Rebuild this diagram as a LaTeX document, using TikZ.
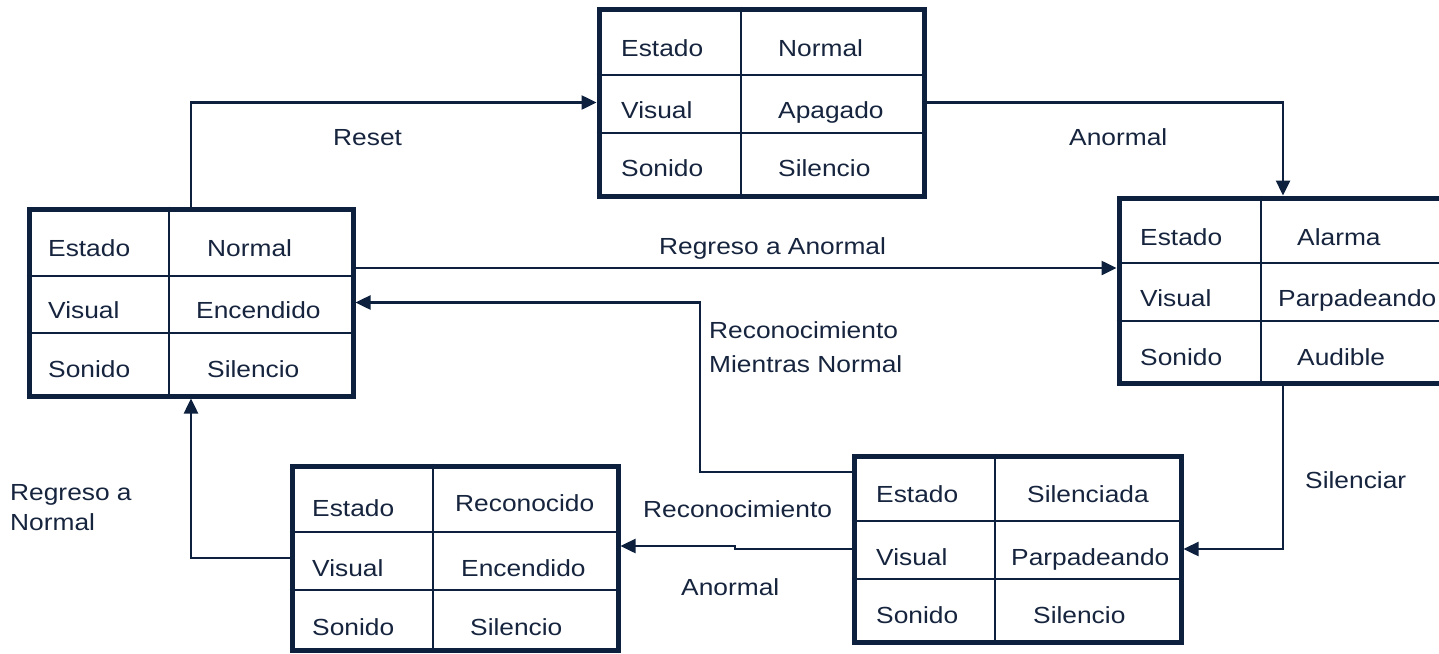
\documentclass[tikz,border=0pt]{standalone}
\usepackage{fontspec}
\setmainfont{Liberation Sans}[FakeStretch=1.13]
\usetikzlibrary{arrows.meta}
\definecolor{navy}{RGB}{13,32,61}
\definecolor{txt}{RGB}{22,36,62}
\begin{document}
\begin{tikzpicture}[x=1pt,y=-1pt,
  statebox/.style={draw=navy,line width=5pt,inner sep=0pt,outer sep=2.5pt,rectangle},
  grid/.style={draw=navy,line width=2pt},
  cell/.style={anchor=base west,inner sep=0pt,text=txt,font=\fontsize{23.3}{28}\selectfont},
  lbl/.style={anchor=base west,inner sep=0pt,text=txt,font=\fontsize{23.3}{28}\selectfont},
  conn/.style={draw=navy,line width=2.5pt,-{Triangle[length=15pt,width=14pt]}}]
\clip (0,0) rectangle (1439,653);
\fill[white] (0,0) rectangle (1439,653);

% boxes
\node[statebox,minimum width=325pt,minimum height=187pt] (T) at (761.5,102.5) {};
\node[statebox,minimum width=324pt,minimum height=187pt] (L) at (191,302.5) {};
\node[statebox,minimum width=328pt,minimum height=185pt] (R) at (1283,290.5) {};
\node[statebox,minimum width=326pt,minimum height=184pt] (BL) at (455,558) {};
\node[statebox,minimum width=327pt,minimum height=186pt] (BR) at (1017.5,549) {};

% grid lines
\draw[grid] (T.north -| 741,0) -- (T.south -| 741,0);
\draw[grid] (T.west |- 0,75) -- (T.east |- 0,75);
\draw[grid] (T.west |- 0,133) -- (T.east |- 0,133);
\draw[grid] (L.north -| 169,0) -- (L.south -| 169,0);
\draw[grid] (L.west |- 0,276) -- (L.east |- 0,276);
\draw[grid] (L.west |- 0,333) -- (L.east |- 0,333);
\draw[grid] (R.north -| 1261,0) -- (R.south -| 1261,0);
\draw[grid] (R.west |- 0,263) -- (R.east |- 0,263);
\draw[grid] (R.west |- 0,321) -- (R.east |- 0,321);
\draw[grid] (BL.north -| 433,0) -- (BL.south -| 433,0);
\draw[grid] (BL.west |- 0,532) -- (BL.east |- 0,532);
\draw[grid] (BL.west |- 0,590) -- (BL.east |- 0,590);
\draw[grid] (BR.north -| 995,0) -- (BR.south -| 995,0);
\draw[grid] (BR.west |- 0,521) -- (BR.east |- 0,521);
\draw[grid] (BR.west |- 0,579) -- (BR.east |- 0,579);

% cell texts: top
\node[cell] (T1a) at (621,56) {Estado};
\node[cell] (T1b) at (778,56) {Normal};
\node[cell] (T2a) at (621,118) {Visual};
\node[cell] (T2b) at (778,118) {Apagado};
\node[cell] (T3a) at (621,176) {Sonido};
\node[cell] (T3b) at (778,176) {Silencio};
% left
\node[cell] (L1a) at (48,256) {Estado};
\node[cell] (L1b) at (207,256) {Normal};
\node[cell] (L2a) at (48,318) {Visual};
\node[cell] (L2b) at (196,318) {Encendido};
\node[cell] (L3a) at (48,377) {Sonido};
\node[cell] (L3b) at (207,377) {Silencio};
% right
\node[cell] (R1a) at (1140,245) {Estado};
\node[cell] (R1b) at (1297,245) {Alarma};
\node[cell] (R2a) at (1140,306) {Visual};
\node[cell] (R2b) at (1278,306) {Parpadeando};
\node[cell] (R3a) at (1140,365) {Sonido};
\node[cell] (R3b) at (1297,365) {Audible};
% bottom left
\node[cell] (B1a) at (312,516) {Estado};
\node[cell] (B1b) at (455,511) {Reconocido};
\node[cell] (B2a) at (312,576) {Visual};
\node[cell] (B2b) at (461,576) {Encendido};
\node[cell] (B3a) at (312,635) {Sonido};
\node[cell] (B3b) at (470,635) {Silencio};
% bottom right
\node[cell] (S1a) at (876,502) {Estado};
\node[cell] (S1b) at (1027,502) {Silenciada};
\node[cell] (S2a) at (876,565) {Visual};
\node[cell] (S2b) at (1011,565) {Parpadeando};
\node[cell] (S3a) at (876,623) {Sonido};
\node[cell] (S3b) at (1033,623) {Silencio};

% connectors
\draw[conn] (L.north) |- (T.west);
\draw[conn] (T.east) -| (R.north);
\draw[conn] ([yshift=34.5pt]L.east) -- ([yshift=34.5pt]L.east -| R.west);
\coordinate (k1) at (700,472);
\coordinate (k2) at (700,302.5);
\draw[conn] ([yshift=77pt]BR.west) -- (k1) -- (k2) -- (L.east);
\draw[conn] (R.south) |- (BR.east);
\coordinate (s1) at (735,549);
\coordinate (s2) at (735,546);
\draw[conn] (BR.west) -- (s1) -- (s2) -- ([yshift=12pt]BL.east);
\draw[conn] (BL.west) -| (L.south);

% labels
\node[lbl] (lReset) at (333,145) {Reset};
\node[lbl] (lAn1) at (1069,145) {Anormal};
\node[lbl] (lRegA) at (659,254) {Regreso a Anormal};
\node[lbl] (lRec1) at (709,338) {Reconocimiento};
\node[lbl] (lRec2) at (709,372) {Mientras Normal};
\node[lbl] (lSil) at (1305,488) {Silenciar};
\node[lbl] (lRec3) at (643,517) {Reconocimiento};
\node[lbl] (lAn2) at (681,595) {Anormal};
\node[lbl] (lRegN1) at (10,500) {Regreso a};
\node[lbl] (lRegN2) at (10,530) {Normal};
\end{tikzpicture}
\end{document}
